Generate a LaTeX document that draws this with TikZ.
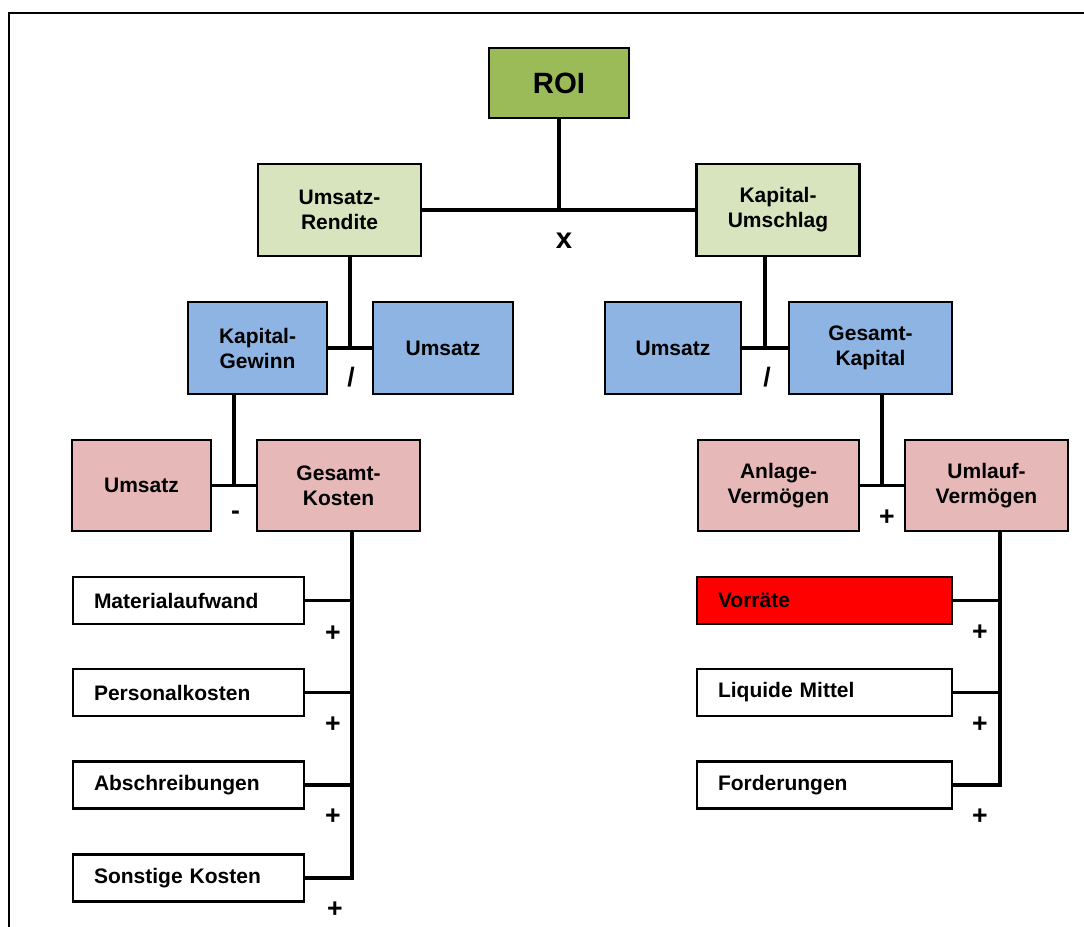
\documentclass[tikz,border=0pt]{standalone}
\usepackage{fontspec}
\setmainfont{Liberation Sans}
\usetikzlibrary{calc}
\definecolor{roigreen}{HTML}{9BBB59}
\definecolor{lightgreen}{HTML}{D7E4BD}
\definecolor{midblue}{HTML}{8EB4E3}
\definecolor{rosebox}{HTML}{E6B9B8}
\definecolor{alertred}{HTML}{FF0000}
\begin{document}
\begin{tikzpicture}[x=0.75pt,y=-0.75pt,
  box/.style={draw=black, line width=1.6pt, inner sep=0pt, align=center,
    font=\bfseries\fontsize{15.75}{18.75}\selectfont, minimum height=69pt},
  item/.style={draw=black, line width=1.6pt, fill=white, minimum height=35.25pt,
    inner ysep=0pt, inner xsep=15.75pt, align=left,
    font=\bfseries\fontsize{15.75}{18.75}\selectfont},
  litem/.style={item, text width=141.75pt},
  ritem/.style={item, text width=159.75pt},
  conn/.style={draw=black, line width=2.5pt},
  op/.style={inner sep=0pt, font=\bfseries\fontsize{20}{24}\selectfont}]
\useasboundingbox (0,0) rectangle (1084,927);

% frame
\draw[line width=1.8pt] (9,927) -- (9,13) -- (1084,13);

% top level
\node[box, fill=roigreen, minimum width=105pt, minimum height=52.5pt,
  font=\bfseries\fontsize{22}{26}\selectfont] (roi) at (559,83) {ROI};
\node[box, fill=lightgreen, minimum width=122.25pt] (ur) at (339.5,210) {Umsatz-\\Rendite};
\node[box, fill=lightgreen, minimum width=122.25pt] (ku) at (778,210) {Kapital-\\Umschlag};

% second level
\node[box, fill=midblue, minimum width=104.25pt] (kg) at (257.5,348) {Kapital-\\Gewinn};
\node[box, fill=midblue, minimum width=105pt] (uml) at (443,348) {Umsatz};
\node[box, fill=midblue, minimum width=102pt] (umr) at (673,348) {Umsatz};
\node[box, fill=midblue, minimum width=122.25pt] (gkap) at (870.5,348) {Gesamt-\\Kapital};

% third level
\node[box, fill=rosebox, minimum width=104.25pt, minimum height=68.25pt] (ump) at (141.5,485.5) {Umsatz};
\node[box, fill=rosebox, minimum width=122.25pt, minimum height=68.25pt] (gk) at (338.5,485.5) {Gesamt-\\Kosten};
\node[box, fill=rosebox, minimum width=120.75pt, minimum height=68.25pt] (av) at (778.5,485.5) {Anlage-\\Vermögen};
\node[box, fill=rosebox, minimum width=122.25pt, minimum height=68.25pt] (uv) at (986.5,485.5) {Umlauf-\\Vermögen};

% cost items
\node[litem] (ma) at (188.5,600.5) {Materialaufwand};
\node[litem] (pk) at (188.5,692.5) {Personalkosten};
\node[litem] (ab) at (188.5,785) {Abschreibungen};
\node[litem] (sk) at (188.5,878) {Sonstige Kosten};

% current asset items
\node[ritem, fill=alertred] (vo) at (824.5,600.5) {Vorräte};
\node[ritem] (lm) at (824.5,692.5) {Liquide Mittel};
\node[ritem] (fo) at (824.5,785) {Forderungen};

% connectors
\draw[conn] (ur.east) -- (ku.west);
\draw[conn] (roi.south) -- (roi.south |- ur.east);

\coordinate (j2) at ($(kg.east)!0.5!(uml.west)$);
\draw[conn] (kg.east) -- (uml.west);
\draw[conn] (j2) -- (j2 |- ur.south);

\coordinate (j3) at ($(umr.east)!0.5!(gkap.west)$);
\draw[conn] (umr.east) -- (gkap.west);
\draw[conn] (j3) -- (j3 |- ku.south);

\coordinate (j4) at ($(ump.east)!0.5!(gk.west)$);
\draw[conn] (ump.east) -- (gk.west);
\draw[conn] (j4) -- (j4 |- kg.south);

\coordinate (j5) at ($(av.east)!0.5!(uv.west)$);
\draw[conn] (av.east) -- (uv.west);
\draw[conn] (j5) -- (j5 |- gkap.south);

\coordinate (lb) at ([xshift=10.125pt]gk.south);
\draw[conn] (lb) -- (lb |- sk.east) -- (sk.east);
\foreach \n in {ma,pk,ab} \draw[conn] (\n.east) -- (\n.east -| lb);

\coordinate (rb) at ([xshift=10.125pt]uv.south);
\draw[conn] (rb) -- (rb |- fo.east) -- (fo.east);
\foreach \n in {vo,lm} \draw[conn] (\n.east) -- (\n.east -| rb);

% operators
\node[op, font=\bfseries\fontsize{22}{26}\selectfont] (opx) at (564,240.5) {x};
\node[op] (opd1) at (351,377) {/};
\node[op] (opd2) at (767,377) {/};
\node[op] (opm) at (235.5,515.5) {-};
\node[op] (opp) at (887,517.5) {+};
\node[op] (pl1) at (333,633.5) {+};
\node[op] (pl2) at (333,725) {+};
\node[op] (pl3) at (333,816.5) {+};
\node[op] (pl4) at (335,909.5) {+};
\node[op] (pr1) at (980,632.5) {+};
\node[op] (pr2) at (980,724.5) {+};
\node[op] (pr3) at (980,817) {+};
\end{tikzpicture}
\end{document}
